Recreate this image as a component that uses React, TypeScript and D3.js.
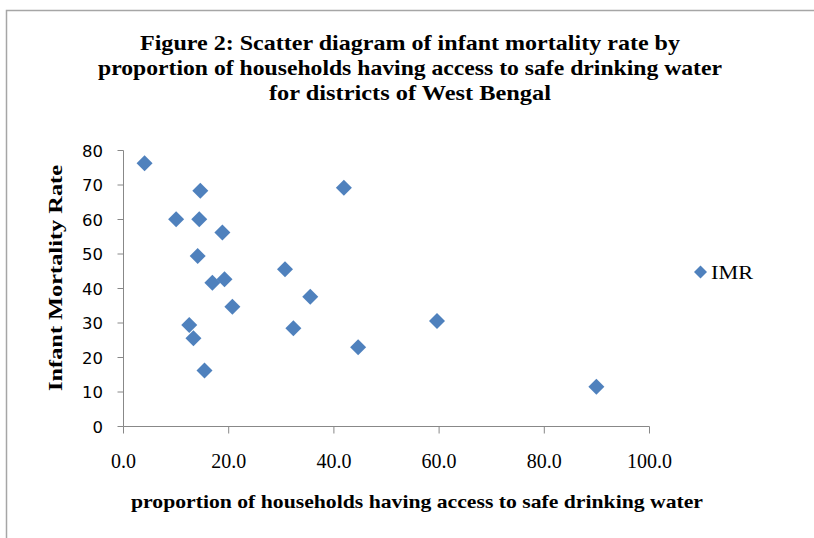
import React from "react";
import * as d3 from "d3";

const waterAccess = [4.0, 10.0, 14.6, 14.4, 18.8, 14.1, 16.9, 19.2, 20.7, 12.5, 13.3, 15.4, 30.7, 35.5, 32.3, 41.9, 44.6, 59.6, 89.9];
const imr = [76.3, 60.1, 68.3, 60.1, 56.2, 49.4, 41.7, 42.7, 34.7, 29.4, 25.6, 16.2, 45.6, 37.6, 28.5, 69.2, 23.0, 30.6, 11.5];
const xTicks = [0, 20, 40, 60, 80, 100];
const yTicks = [0, 10, 20, 30, 40, 50, 60, 70, 80];
const titleLines = [
  "Figure 2: Scatter diagram of infant mortality rate by",
  "proportion of households having access to safe drinking water",
  "for districts of West Bengal",
];
const seriesName = "IMR";
const xLabel = "proportion of households having access to safe drinking water";
const yLabel = "Infant Mortality Rate";

export default function App() {
  const W = 814, H = 538;
  const x = d3.scaleLinear().domain([0, 100]).range([123.5, 649.5]);
  const y = d3.scaleLinear().domain([0, 80]).range([426.5, 150.5]);
  const axisColor = "#888888";
  const blue = "#4F81BD";
  const dpath = (cx: number, cy: number, r: number) =>
    `M${cx},${cy - r}L${cx + r},${cy}L${cx},${cy + r}L${cx - r},${cy}Z`;
  const titleWidths = [540, 624, 282];
  const serif = "'Liberation Serif', 'Times New Roman', serif";
  return (
    <svg width={W} height={H} style={{ position: "absolute", left: 0, top: 0, background: "#fff" }}>
      <rect x={0} y={0} width={W} height={H} fill="#fff" />
      <path d={`M6.5,${H}V10.5H${W}`} fill="none" stroke="#a6a6a6" strokeWidth={1.5} />
      {titleLines.map((t, i) => (
        <text key={i} x={410} y={50 + i * 25} textAnchor="middle" fontFamily={serif} fontWeight="bold" fontSize={21}
          textLength={titleWidths[i]} lengthAdjust="spacingAndGlyphs" fill="#000">{t}</text>
      ))}
      {/* y axis */}
      <line x1={x(0)} x2={x(0)} y1={y(80)} y2={y(0)} stroke={axisColor} strokeWidth={1} />
      {yTicks.map((t) => (
        <g key={t}>
          <line x1={x(0) - 6} x2={x(0)} y1={y(t)} y2={y(t)} stroke={axisColor} />
          <text x={103} y={y(t) + 6} textAnchor="end" fontFamily="'DejaVu Sans', Verdana, sans-serif" fontSize={16.5} fill="#000">{t}</text>
        </g>
      ))}
      {/* x axis */}
      <line x1={x(0)} x2={x(100)} y1={y(0)} y2={y(0)} stroke={axisColor} strokeWidth={1} />
      {xTicks.map((t) => (
        <g key={t}>
          <line x1={x(t)} x2={x(t)} y1={y(0)} y2={y(0) + 7} stroke={axisColor} />
          <text x={x(t)} y={468} textAnchor="middle" fontFamily={serif} fontSize={20} fill="#000">{t.toFixed(1)}</text>
        </g>
      ))}
      {/* axis titles */}
      <text x={417} y={508} textAnchor="middle" fontFamily={serif} fontWeight="bold" fontSize={19}
        textLength={572} lengthAdjust="spacingAndGlyphs">{xLabel}</text>
      <text transform={`translate(62,278) rotate(-90)`} textAnchor="middle" fontFamily={serif} fontWeight="bold" fontSize={19}
        textLength={226} lengthAdjust="spacingAndGlyphs">{yLabel}</text>
      {/* points */}
      {waterAccess.map((v, i) => (
        <path key={i} d={dpath(x(v), y(imr[i]), 8)} fill={blue} />
      ))}
      {/* legend */}
      <path d={dpath(700.5, 272, 6.5)} fill={blue} />
      <text x={711} y={278.5} fontFamily={serif} fontSize={19} textLength={42} lengthAdjust="spacingAndGlyphs" fill="#000">{seriesName}</text>
    </svg>
  );
}
